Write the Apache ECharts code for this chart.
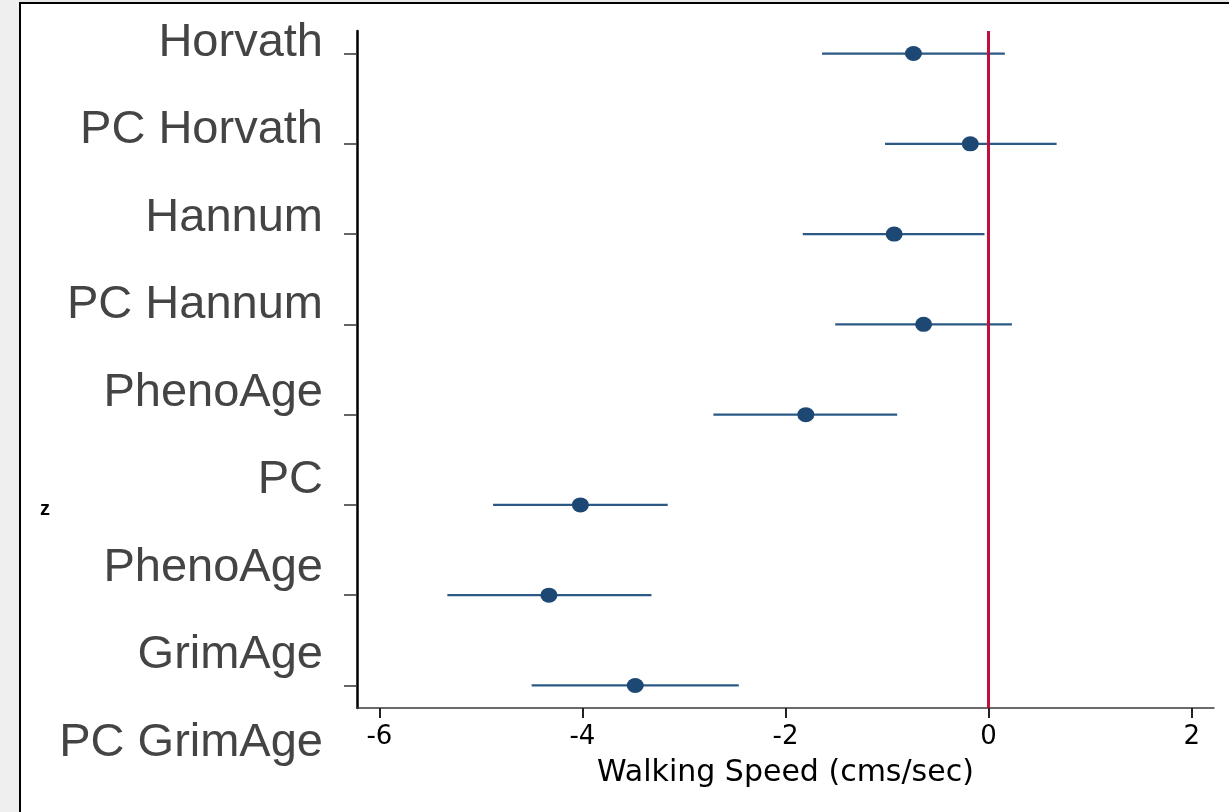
<!DOCTYPE html>
<html>
<head>
<meta charset="utf-8">
<script src="https://cdn.jsdelivr.net/npm/echarts@6/dist/echarts.min.js"></script>
<style>
html,body{margin:0;padding:0;background:#fff;}
#chart{width:1229px;height:812px;}
</style>
</head>
<body>
<div id="chart"></div>
<script>
// Categories (order top to bottom) and estimates
var categories = ["Horvath", "PC Horvath", "Hannum", "PC Hannum", "PhenoAge", "PC PhenoAge", "GrimAge", "PC GrimAge"];
var labelLines = ["Horvath", "PC Horvath", "Hannum", "PC Hannum", "PhenoAge", "PC", "PhenoAge", "GrimAge", "PC GrimAge"];
var estimates = [-0.74, -0.18, -0.93, -0.64, -1.80, -4.02, -4.33, -3.48];
var lower     = [-1.64, -1.02, -1.83, -1.51, -2.71, -4.88, -5.33, -4.50];
var upper     = [ 0.16,  0.67, -0.04,  0.23, -0.90, -3.16, -3.32, -2.46];
var xTicks = [-6, -4, -2, 0, 2];
var yPositions = [1, 2, 3, 4, 5, 6, 7, 8];

var pointData = estimates.map(function (v, i) { return [v, yPositions[i]]; });
var ciData = lower.map(function (lo, i) { return [lo, upper[i], yPositions[i]]; });

var chart = echarts.init(document.getElementById('chart'), null, {renderer: 'canvas'});
var option = {
  backgroundColor: '#ffffff',
  animation: false,
  grid: [
    {left: 357, right: 15, top: 31, bottom: 104},
    {left: 357, width: 10, top: 43, height: 700}
  ],
  xAxis: [
    {
      type: 'value', gridIndex: 0, min: -6.22, max: 2.22,
      axisLine: {show: true, onZero: false, lineStyle: {color: '#3a3a3a', width: 1.5}},
      axisTick: {show: true, length: 10, customValues: xTicks, lineStyle: {color: '#222', width: 2}},
      axisLabel: {show: true, customValues: xTicks, margin: 16, color: '#000', fontSize: 26, fontFamily: 'DejaVu Sans'},
      splitLine: {show: false},
      name: 'Walking Speed (cms/sec)', nameLocation: 'middle', nameGap: 50,
      nameTextStyle: {color: '#000', fontSize: 30, fontFamily: 'DejaVu Sans'}
    },
    {type: 'value', gridIndex: 1, show: false}
  ],
  yAxis: [
    {
      type: 'value', gridIndex: 0, min: 0.75, max: 8.25, inverse: true,
      axisLine: {show: true, onZero: false, lineStyle: {color: '#000', width: 2.5}},
      axisTick: {show: true, length: 13, customValues: yPositions, lineStyle: {color: '#333', width: 1.5}},
      axisLabel: {show: false},
      splitLine: {show: false}
    },
    {
      type: 'category', gridIndex: 1, data: labelLines, inverse: true, boundaryGap: false,
      axisLine: {show: false, onZero: false}, axisTick: {show: false},
      axisLabel: {show: true, interval: 0, margin: 34, color: '#444444', fontSize: 47, fontFamily: 'Liberation Sans'}
    }
  ],
  series: [
    {
      type: 'custom', xAxisIndex: 0, yAxisIndex: 0, z: 2,
      data: ciData,
      encode: {x: [0, 1], y: 2},
      renderItem: function (params, api) {
        var a = api.coord([api.value(0), api.value(2)]);
        var b = api.coord([api.value(1), api.value(2)]);
        return {
          type: 'line',
          shape: {x1: a[0], y1: a[1], x2: b[0], y2: b[1]},
          style: {stroke: '#2b5884', lineWidth: 2.2}
        };
      }
    },
    {
      type: 'scatter', xAxisIndex: 0, yAxisIndex: 0, z: 3,
      data: pointData, symbol: 'circle', symbolSize: [17, 15],
      itemStyle: {color: '#1d4873', opacity: 1},
      markLine: {
        silent: true, symbol: 'none', z: 4,
        label: {show: false},
        lineStyle: {color: '#c0103c', width: 3, type: 'solid'},
        data: [{xAxis: 0}]
      }
    }
  ],
  graphic: [
    {type: 'rect', left: 0, top: 0, shape: {width: 19, height: 812}, style: {fill: '#efefef'}, silent: true},
    {type: 'rect', left: 19, top: 0, shape: {width: 1210, height: 2}, style: {fill: '#e8e8e8'}, silent: true},
    {type: 'line', shape: {x1: 20, y1: 2, x2: 20, y2: 812}, style: {stroke: '#000', lineWidth: 2}, silent: true},
    {type: 'line', shape: {x1: 19, y1: 3, x2: 1229, y2: 3}, style: {stroke: '#000', lineWidth: 2}, silent: true},
    {type: 'text', left: 40, top: 499, style: {text: 'z', fill: '#000', font: 'bold 20px "Liberation Sans"'}, silent: true}
  ]
};
chart.setOption(option);
</script>
</body>
</html>
